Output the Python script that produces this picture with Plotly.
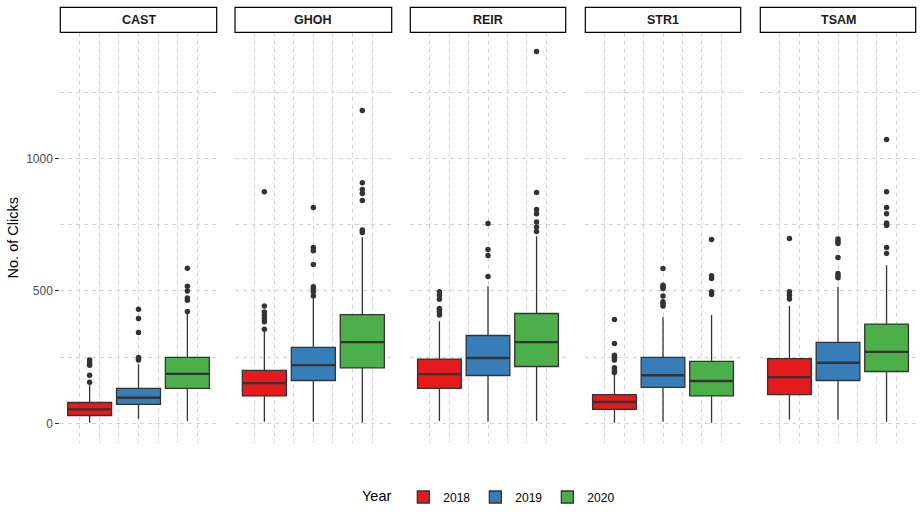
import plotly.graph_objects as go

# ---------------- data ----------------
sites = ["CAST", "GHOH", "REIR", "STR1", "TSAM"]
years = [2018, 2019, 2020]
year_colors = ["#E41A1C", "#377EB8", "#4DAF4A"]

# box statistics per site, ordered by year 2018, 2019, 2020
q1 = {
    "CAST": [30, 72, 132],
    "GHOH": [104, 162, 210],
    "REIR": [132, 181, 215],
    "STR1": [53, 136, 104],
    "TSAM": [109, 162, 196],
}
median = {
    "CAST": [53, 97, 187],
    "GHOH": [152, 220, 307],
    "REIR": [186, 247, 307],
    "STR1": [81, 182, 160],
    "TSAM": [175, 229, 270],
}
q3 = {
    "CAST": [79, 132, 249],
    "GHOH": [200, 287, 411],
    "REIR": [243, 332, 415],
    "STR1": [109, 249, 234],
    "TSAM": [245, 306, 375],
}
lower = {
    "CAST": [3, 18, 9],
    "GHOH": [6, 6, 3],
    "REIR": [9, 6, 9],
    "STR1": [3, 6, 3],
    "TSAM": [15, 15, 6],
}
upper = {
    "CAST": [147, 223, 414],
    "GHOH": [346, 472, 703],
    "REIR": [386, 518, 707],
    "STR1": [189, 401, 409],
    "TSAM": [443, 516, 597],
}
outliers = {
    "CAST": [[155, 182, 220, 229, 239],
             [239, 244, 249, 343, 396, 431],
             [423, 465, 474, 500, 518, 586]],
    "GHOH": [[356, 384, 396, 409, 421, 443, 875],
             [481, 497, 508, 516, 600, 652, 664, 815],
             [721, 730, 842, 868, 883, 909, 1181]],
    "REIR": [[409, 421, 430, 434, 469, 484, 497],
             [555, 634, 657, 755],
             [725, 742, 760, 792, 808, 872, 1404]],
    "STR1": [[192, 200, 210, 239, 248, 257, 302, 392],
             [443, 452, 459, 481, 509, 516, 522, 585],
             [487, 497, 547, 558, 694]],
    "TSAM": [[470, 484, 497, 698],
             [550, 558, 566, 626, 679, 688, 696],
             [642, 664, 747, 752, 757, 792, 815, 875, 1072]],
}
y_ticks = [0, 500, 1000]

# ---------------- layout geometry ----------------
W, H = 923, 524
panel_px = [(60.3, 216.7), (235.0, 391.7), (410.3, 565.7), (585.3, 740.7), (760.3, 915.7)]
panel_top, panel_bot = 33.0, 442.5
strip_top, strip_bot = 7.3, 32.3
y_range = [-72, 1474]
x_range = [2017.4, 2020.6]
grid_color = "#D3D3D3"
grid_dash = "4px,4px"
box_w = 0.9
FONT = "Liberation Sans, Arial"

fig = go.Figure()

for i, site in enumerate(sites):
    ax = "" if i == 0 else str(i + 1)
    xref, yref = "x" + ax, "y" + ax
    for j, yr in enumerate(years):
        fig.add_trace(go.Box(
            x=[yr], q1=[q1[site][j]], median=[median[site][j]], q3=[q3[site][j]],
            lowerfence=[lower[site][j]], upperfence=[upper[site][j]],
            width=box_w, whiskerwidth=0, boxpoints=False,
            fillcolor=year_colors[j], line=dict(color="#333333", width=1.3),
            name=str(yr), legendgroup=str(yr), showlegend=(i == 0),
            xaxis=xref, yaxis=yref, hoverinfo="skip",
        ))
        # thicker median bar (ggplot fatten)
        fig.add_trace(go.Scatter(
            x=[yr - box_w / 2, yr + box_w / 2], y=[median[site][j]] * 2,
            mode="lines", line=dict(color="#333333", width=2.4),
            showlegend=False, xaxis=xref, yaxis=yref, hoverinfo="skip",
        ))
        pts = outliers[site][j]
        fig.add_trace(go.Scatter(
            x=[yr] * len(pts), y=pts, mode="markers",
            marker=dict(color="#333333", size=5.5),
            showlegend=False, xaxis=xref, yaxis=yref, hoverinfo="skip",
        ))

    x0, x1 = panel_px[i]
    dom = [x0 / W, x1 / W]
    xgrid = [x_range[0] + k * (x_range[1] - x_range[0]) / 8 for k in range(1, 8)]
    fig.layout["xaxis" + ax] = dict(
        domain=dom, range=x_range, anchor=yref, automargin=False,
        tickmode="array", tickvals=xgrid, showticklabels=False, ticks="",
        showgrid=True, gridcolor=grid_color, griddash=grid_dash, gridwidth=1,
        zeroline=False, showline=False,
    )
    fig.layout["yaxis" + ax] = dict(
        domain=[(H - panel_bot) / H, (H - panel_top) / H], range=y_range, anchor=xref,
        automargin=False,
        tickmode="array", tickvals=y_ticks, showticklabels=(i == 0),
        ticks="outside" if i == 0 else "", ticklen=4, tickcolor="#333333", tickwidth=1,
        tickfont=dict(family=FONT, size=12, color="#4D4D4D"),
        showgrid=True, gridcolor=grid_color, griddash=grid_dash, gridwidth=1,
        minor=dict(tickmode="array", tickvals=[250, 750, 1250], showgrid=True,
                   gridcolor=grid_color, griddash=grid_dash, gridwidth=1, ticks=""),
        zeroline=False, showline=False,
        title=dict(text="No. of Clicks", standoff=4,
                   font=dict(family=FONT, size=14.5, color="#000000")) if i == 0 else None,
    )
    # facet strip
    fig.add_shape(type="rect", xref="paper", yref="paper",
                  x0=x0 / W, x1=x1 / W, y0=(H - strip_bot) / H, y1=(H - strip_top) / H,
                  line=dict(color="#000000", width=1.2), fillcolor="white")
    fig.add_annotation(text="<b>%s</b>" % site, xref="paper", yref="paper",
                       x=(x0 + x1) / 2 / W, y=(H - (strip_top + strip_bot) / 2) / H,
                       showarrow=False, xanchor="center", yanchor="middle",
                       font=dict(family=FONT, size=12.5, color="#1A1A1A"))

fig.update_layout(
    width=W, height=H,
    margin=dict(l=0, r=0, t=0, b=0, autoexpand=False),
    paper_bgcolor="white", plot_bgcolor="white",
    boxmode="overlay",
    showlegend=True,
    legend=dict(orientation="h", x=490 / W, xanchor="center", y=(H - 497) / H, yanchor="middle",
                title=dict(text="Year ", side="left",
                           font=dict(family=FONT, size=14.5, color="#000000")),
                font=dict(family=FONT, size=12, color="#000000"),
                itemwidth=30, tracegroupgap=0),
    font=dict(family=FONT),
)

fig.write_html("out.html", config={"displayModeBar": False},
               post_script="document.body.style.margin='0';document.body.style.padding='0';")
